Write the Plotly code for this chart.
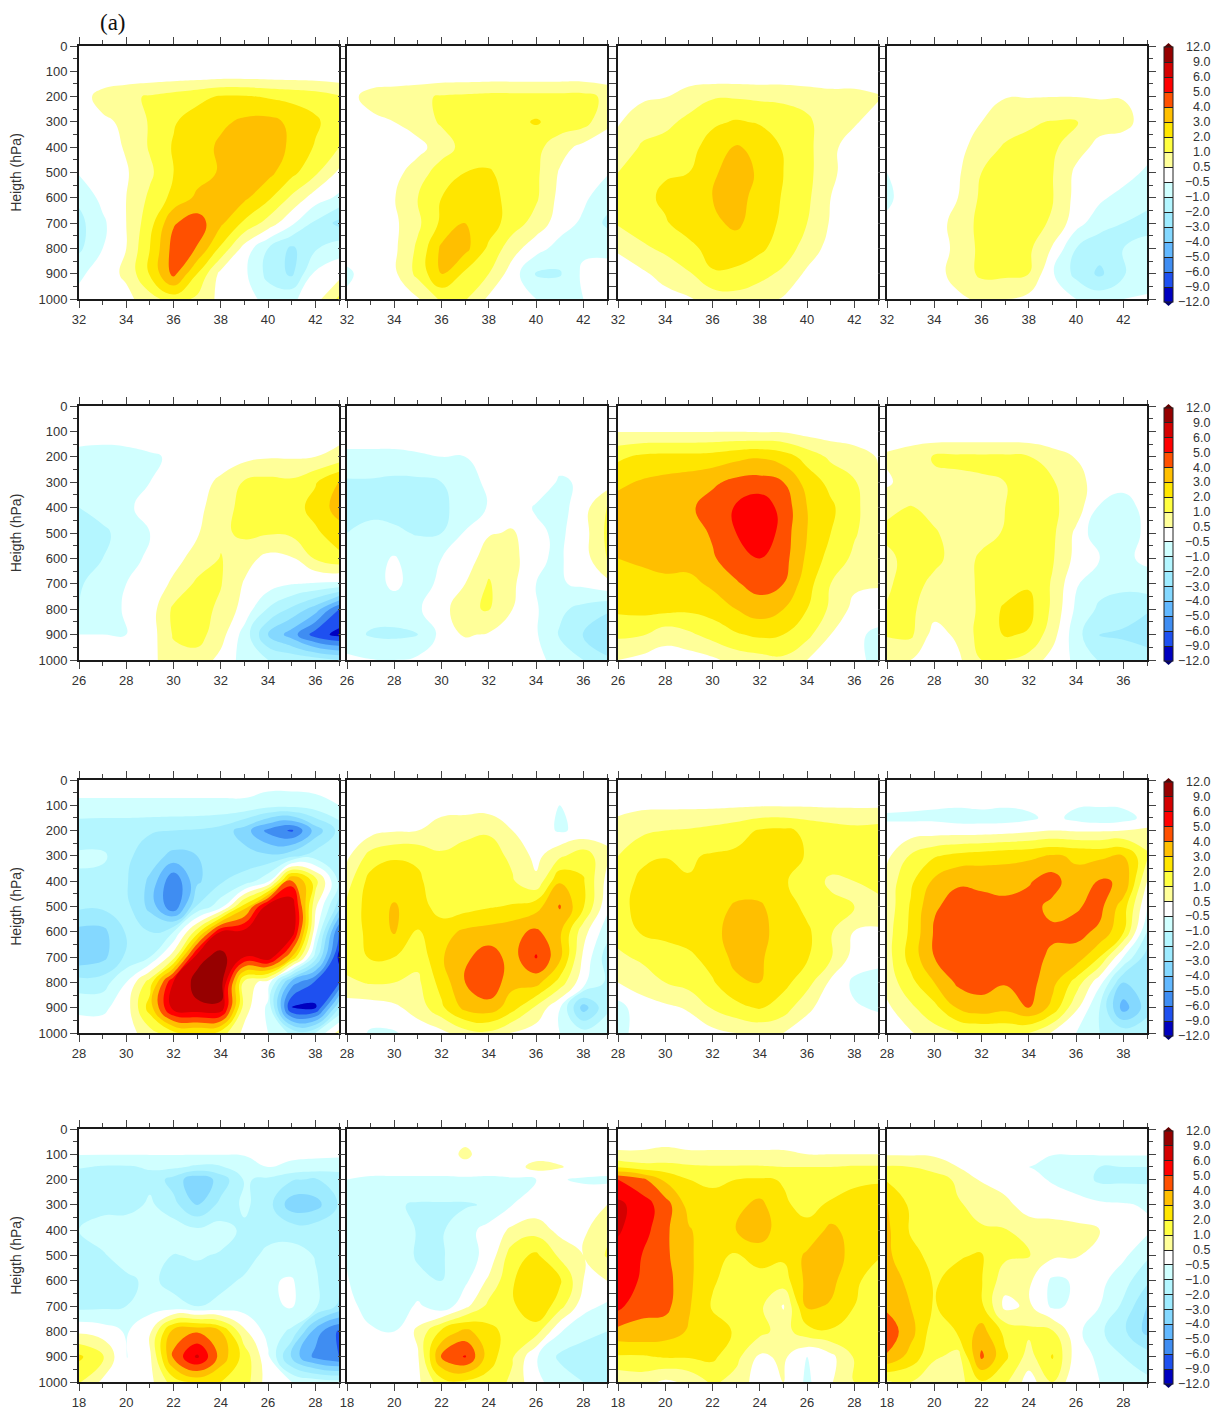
import numpy as np
import plotly.graph_objects as go

LEVELS = [-12, -9, -6, -5, -4, -3, -2, -1, -0.5, 0.5, 1, 2, 3, 4, 5, 6, 9, 12]
LEVEL_LABELS = ["-12.0", "-9.0", "-6.0", "-5.0", "-4.0", "-3.0", "-2.0", "-1.0", "-0.5",
                "0.5", "1.0", "2.0", "3.0", "4.0", "5.0", "6.0", "9.0", "12.0"]
BAND_COLORS = ["#0000C0", "#1E50F0", "#3F8DF2", "#62B8FF", "#84D8FF", "#9EEBFF", "#B4F6FF", "#D0FFFF",
               "#FFFFFF", "#FFFF99", "#FFFF40", "#FFE600", "#FFBF00", "#FF5000", "#FF0000", "#D40000", "#960000"]

PRESS_A = [0, 100, 200, 300, 400, 500, 600, 700, 800, 900, 1000]
PRESS_B = [0, 100, 150, 200, 300, 400, 500, 600, 700, 800, 900, 1000]
ROW_X0 = [32, 26, 28, 18]
Y_TITLE = "Heigth (hPa)"

A1 = [[0]*12, [-0.4]*12,
 [0,0.7,0.9,1.1,1.4,1.7,2.1,2.1,1.9,1.7,1.5,1.1],
 [0,0.3,0.6,1.1,1.9,2.5,2.8,3.2,3.3,2.8,2.2,1.3],
 [0,0,0.55,1.1,2.1,2.5,3.2,3.5,3.6,2.8,1.9,1.0],
 [-0.4,0,0.4,0.9,2.0,2.6,3.1,3.4,3.3,2.3,1.2,0.3],
 [-0.9,-0.2,0.5,1.2,2.3,3.2,3.5,3.2,2.2,0.9,0,-0.6],
 [-1.3,-0.6,0.5,1.6,3.9,4.5,3.2,1.8,0.8,-0.3,-1.2,-2.3],
 [-1.2,-0.5,0.5,2.0,4.4,3.95,1.8,0.1,-1.0,-2.2,-1.1,-0.7],
 [-0.6,0,0.6,2.1,4.3,2.0,0.2,-0.3,-1.3,-2.2,-0.3,0.1],
 [-0.2,0,0.2,0.8,1.5,0.9,0.2,0,-0.7,-0.6,0.1,1.2]]
A2 = [[0]*12, [-0.4]*12,
 [0.1,0.7,0.8,0.9,1.1,1.2,1.3,1.3,1.3,1.3,1.3,0.9],
 [0,0.2,0.5,0.8,1.1,1.4,1.5,1.7,2.1,1.6,1.4,0.6],
 [0,0,0,0.1,0.8,1.3,1.5,1.6,1.3,0.7,0.2,0],
 [0,0,0.1,0.8,1.4,2.0,2.1,1.6,1.2,0.4,0,-0.4],
 [0,0,0.45,1.0,2.0,2.5,2.4,1.6,1.15,0.2,-0.3,-0.8],
 [0,0,0.3,0.9,2.2,3.02,2.5,1.5,0.8,0,-0.6,-1.2],
 [0,0,0.3,1.2,3.2,3.3,1.8,0.7,-0.1,-0.7,-0.6,-0.6],
 [-0.6,0,0.3,1.3,3.0,1.8,1.0,0,-1.1,-1.1,-0.3,-0.2],
 [-0.3,0,0,0.4,1.2,1.1,0.3,0,-0.5,-0.6,-0.5,-0.4]]
A3 = [[0]*12, [-0.4]*12,
 [0,0.3,0.45,0.8,0.95,0.95,0.9,0.9,0.8,0.7,0.7,0.55],
 [0.4,0.8,0.9,1.2,1.8,2.1,1.9,1.5,1.2,0.7,0.55,0.1],
 [0.7,1.1,1.3,1.6,2.5,3.1,2.7,1.9,1.3,0.6,0.1,0],
 [1.0,1.4,1.9,2.0,2.9,3.3,2.9,2.0,1.3,0.6,0,0],
 [1.2,1.7,2.2,2.4,3.0,3.3,2.7,1.9,1.2,0.5,0,0],
 [1.1,1.5,1.9,2.5,2.8,3.2,2.5,1.8,1.0,0.4,0,0],
 [0.55,0.9,1.2,1.7,2.4,2.5,2.2,1.5,0.8,0.1,0,0],
 [0.1,0.3,0.7,0.95,1.9,1.8,1.3,0.9,0.3,0,0,0],
 [0,0,0.1,0.4,0.7,0.8,0.7,0.4,0,0,0,0]]
A4 = [[0]*12, [0]*12,
 [0,0,0,0,0.2,0.45,0.45,0.48,0.48,0.45,0.45,0],
 [0,0,0,0,0.5,0.8,0.95,1.05,1.05,0.7,0.65,0.1],
 [0,0,0,0.1,0.8,1.1,1.2,1.2,0.7,0.2,0,0],
 [-0.5,0,0,0.35,1.0,1.2,1.3,1.05,0.3,0,0,-0.6],
 [-0.6,0,0,0.5,1.2,1.3,1.3,1.05,0.2,-0.3,-0.7,-0.9],
 [-0.3,0,0,0.7,1.3,1.4,1.3,0.95,-0.1,-0.8,-1.0,-1.2],
 [0,0,0.1,0.6,1.3,1.4,1.2,0.4,-1.0,-1.6,-1.0,-0.9],
 [0,0,0.1,0.7,1.2,1.2,1.0,-0.4,-1.3,-2.2,-1.1,-0.7],
 [0,0,0,0.3,0.6,0.5,0.2,0,-0.5,-0.7,-0.5,-0.4]]

B1 = [[0]*12, [0.4,0.4,0.4,0.4,0.2,0,0,0,0,0,0,0],
 [-0.8,-0.9,-0.8,-0.6,-0.3,0,0,0.2,0.4,0.4,0.5,0.7],
 [-0.9,-0.9,-0.7,-0.5,0,0.1,0.6,1.1,1.3,1.2,1.9,3.1],
 [-1.0,-0.9,-0.55,-0.3,0,0.2,0.8,1.3,1.4,1.5,2.4,3.4],
 [-1.1,-1.1,-0.9,-0.5,0,0.4,0.9,1.2,1.1,1.2,1.8,2.6],
 [-1.1,-1.0,-0.7,-0.3,0.15,0.7,1.05,0.7,0.2,0.4,1.1,1.7],
 [-1.1,-0.8,-0.5,-0.2,0.6,1.2,1.05,0.4,0,-0.45,-0.55,-0.6],
 [-1.0,-0.7,-0.4,0,1.2,1.4,0.9,0.1,-1.1,-2.2,-3.5,-6],
 [-0.5,-0.5,-0.5,0,1.1,1.4,0.7,-0.7,-3,-4.5,-7.5,-10],
 [0,0,0,0.2,0.8,0.8,0.2,-0.7,-1,-1.2,-1.5,-2.0]]
B2 = [[0]*12, [0.4,0.4,0.4,0.4,0.4,0.4,0.3,0,0,0,0,0],
 [-0.7,-0.7,-0.7,-0.6,-0.5,-0.5,-0.3,0,0,-0.2,-0.3,0],
 [-1.1,-1.1,-1.2,-1.2,-1.0,-0.7,-0.3,0,0,-0.55,-0.4,0],
 [-1.1,-1.2,-1.2,-1.2,-1.1,-0.9,-0.4,0,-0.55,-0.7,0.1,1.1],
 [-1.0,-0.9,-0.95,-1.05,-1.0,-0.4,0.4,0.55,-0.3,-0.6,0.1,1.2],
 [-0.8,-0.7,-0.4,-0.8,-0.5,-0.1,0.8,0.7,-0.4,-0.55,0,1.1],
 [-0.8,-0.7,-0.3,-0.7,-0.3,0.5,1.1,0.6,-0.5,-0.55,-0.3,0.2],
 [-0.8,-0.8,-0.75,-0.55,0,0.95,1.05,0.5,-0.4,-0.9,-1.3,-1.8],
 [-0.8,-1.1,-1.2,-1.0,-0.2,0.55,0.4,0,-0.4,-1.1,-2.1,-3.0],
 [-0.3,-0.45,-0.5,-0.3,0,0,0,0,-0.2,-0.7,-1.0,-1.8]]
B3 = [[0]*12,
 [0.45,0.45,0.45,0.45,0.45,0.45,0.4,0.4,0.1,0,0,0],
 [1.8,2.2,2.3,2.3,2.4,2.7,2.9,2.5,1.6,0.9,0.7,0.45],
 [2.8,3.1,3.3,3.5,3.8,4.3,4.4,4.0,2.6,1.7,1.1,0.55],
 [3.4,3.5,3.6,3.8,4.5,5.1,5.7,4.6,3.0,2.2,1.2,0.7],
 [3.5,3.6,3.6,3.6,4.1,5.0,6.0,4.5,3.0,2.0,1.1,0.7],
 [3.0,3.1,3.3,3.4,3.9,4.5,5.0,4.4,2.8,1.6,0.9,0.7],
 [2.4,2.8,2.8,2.7,3.2,3.9,4.4,4.0,2.4,1.0,0.6,0.55],
 [2.2,2.3,2.3,2.2,2.4,3.0,3.5,3.0,2.0,0.9,0.2,0],
 [1.2,1.1,0.7,0.9,1.4,1.9,2.2,2.0,1.3,0.5,-0.3,-0.6],
 [0.5,0.2,0,0,0.3,0.7,0.8,0.9,0.5,0,-0.3,-0.6]]
B4 = [[0]*12, [-0.3,-0.3,-0.4,-0.4,-0.4,-0.4,-0.4,-0.3,0,0,0,0],
 [0.6,0.8,1.1,1.2,1.2,1.2,1.05,0.7,0.45,0,0,0],
 [0.3,0.8,0.9,0.9,0.95,1.0,1.3,1.1,0.7,0,-0.2,0],
 [0.9,1.05,0.85,0.8,0.8,1.0,1.3,1.2,0.75,-0.55,-0.7,-0.2],
 [1.2,1.3,1.1,0.8,0.9,1.05,1.4,1.2,0.3,-0.9,-0.9,-0.2],
 [0.9,1.3,1.2,0.85,1.1,1.3,1.4,1.1,0.2,-0.5,-0.6,-0.3],
 [0.95,1.3,0.9,0.75,1.2,1.4,1.9,0.95,-0.4,-0.8,-0.9,-0.7],
 [1.05,1.2,0.7,0.7,1.2,2.2,2.3,0.9,-0.6,-1.2,-1.4,-1.9],
 [1.1,1.2,0.1,0.6,1.4,2.1,1.9,0.7,-0.8,-2.1,-2.2,-2.5],
 [0.5,0.5,0,0.3,1.0,1.0,0.8,0.1,-0.6,-1.1,-1.2,-1.5]]

C1 = [[0]*12,
 [-0.6,-0.6,-0.6,-0.6,-0.6,-0.6,-0.6,-0.6,-0.8,-0.8,-0.7,-0.5],
 [-1.7,-1.8,-1.8,-1.9,-2.0,-2.1,-2.4,-3.5,-5.3,-6.5,-3.6,-1.7],
 [-0.9,-0.9,-1.8,-2.5,-3.3,-3.0,-2.1,-2.6,-2.8,-2.3,-1.5,-1.4],
 [-1.2,-1.4,-1.9,-3.2,-5.9,-3.2,-2.1,-1.6,-0.6,4.5,1.5,-1.2],
 [-1.8,-1.8,-1.7,-3.3,-5.9,-1.9,-0.7,2.5,8,8.5,0.6,-2.5],
 [-3.3,-3.3,-1.9,-2.0,-1.0,1.5,6.2,7,9,8.5,-0.1,-6.2],
 [-3.7,-3.3,-1.8,-1,0.8,8,10,6,8.5,3,-1.5,-10],
 [-1.6,-1.5,-0.5,1.5,6.3,10,10.5,0.8,0,-4.5,-6.5,-6.5],
 [-0.6,-0.6,0,2.5,7.5,8.5,8.5,0.7,-0.6,-9.5,-9.5,-2],
 [0,0,0,0.8,1.7,2,1.5,0.2,-0.5,-1.2,-1.0,0.7]]
C2 = [[0]*12,
 [0,0,-0.3,-0.3,0,0,0,0,-0.4,-0.5,-0.3,0],
 [0,0.1,0.4,0.5,0.8,0.9,0.95,0.5,-0.1,-0.55,-0.3,0.2],
 [0.3,1.4,1.9,1.8,1.1,1.3,1.4,0.9,0.2,0.9,1.6,0.6],
 [0.8,2.4,2.5,2.2,1.3,1.4,1.5,1.1,0.6,2.9,2.1,0.2],
 [1.2,2.5,3.1,2.5,1.5,1.6,1.9,2.1,2.6,4.1,2.1,-0.2],
 [1.4,2.3,3.1,1.9,2.6,3.2,3.4,3.7,4.2,3.2,0.7,-0.8],
 [1.5,2.1,2.0,1.3,2.9,3.8,4.5,3.6,5.1,3.3,0.3,-1.5],
 [0.9,1.1,1.0,0.9,2.4,4.0,4.8,3.3,3.4,1.6,-0.2,-1.2],
 [0,0,0.3,0.7,1.8,3.3,3.6,2.4,0.9,-0.4,-3.5,-1.2],
 [0,-0.55,-0.55,0,0.2,0.8,0.9,0.4,0,-0.5,-0.8,-0.7]]
C3 = [[0]*12,
 [0.2,0.3,0.3,0.3,0.3,0.35,0.4,0.4,0.4,0.35,0.35,0.35],
 [0.7,0.9,1.0,1.1,1.3,1.6,2.1,2.2,1.8,1.5,1.3,1.4],
 [1.0,1.7,1.95,1.9,2.1,2.2,2.6,2.6,1.9,1.6,1.4,1.2],
 [1.3,2.3,2.5,2.05,2.4,2.6,2.6,2.1,1.6,0.9,1.0,1.2],
 [1.5,2.5,2.6,2.6,2.7,3.1,3.1,2.6,1.7,1.3,1.0,0.9],
 [1.4,2.1,2.3,2.5,2.8,3.3,3.2,2.7,2.2,1.1,0.45,0.3],
 [0.9,1.2,1.5,1.8,2.4,3.3,3.1,2.6,2.1,1.1,0.1,0],
 [0.5,0.7,1.0,1.4,1.9,2.8,3.0,2.3,1.4,0.3,-0.6,-0.8],
 [-0.7,0.1,0.3,0.55,1.1,1.7,2.1,1.5,0.6,0,-0.4,-0.55],
 [-0.7,0,0,0,0.2,0.5,0.6,0.5,0,0,0,0]]
C4 = [[0]*12,
 [-0.2,-0.3,-0.4,-0.4,-0.3,-0.4,-0.3,0,-0.4,-0.4,-0.35,0],
 [-0.6,-0.6,-0.6,-0.7,-0.7,-0.7,-0.6,-0.2,-0.65,-0.8,-0.7,-0.2],
 [0,0,0,0,0,0.1,0.3,0.5,0.4,0.4,0.5,0.6],
 [0.3,1.1,1.9,2.3,2.5,2.7,2.8,3.1,2.9,2.8,3.0,1.2],
 [0.7,1.8,3.2,3.9,3.8,3.6,3.9,4.5,3.2,4.1,3.9,0.5],
 [0.7,2.1,3.9,4.3,4.3,4.3,4.4,3.7,3.9,4.3,2.5,-0.4],
 [0.8,2.2,4.1,4.6,4.6,4.6,4.6,4.2,4.3,3.8,2.1,-1],
 [0.8,2.4,4.0,4.6,4.7,4.6,4.4,3.8,3.6,2.0,-0.5,-2.5],
 [0.7,1.7,3.0,4.2,4.4,4.1,4.4,3.3,1.6,-0.2,-3,-2.8],
 [0.3,0.9,1.7,3.1,3.6,3.3,4.0,2.7,0.6,-1.0,-4.5,-2.5],
 [0,0.4,0.8,1,1.1,1.2,1.0,0.4,-0.5,-1,-1.4,-1.2]]

D1 = [[0]*12,
 [-0.45,-0.45,-0.45,-0.45,-0.45,-0.45,-0.45,-0.45,-0.3,-0.3,-0.3,-0.3],
 [-0.95,-1.1,-1.1,-0.95,-0.9,-1.2,-1.1,-0.7,-0.5,-0.6,-0.7,-0.8],
 [-1.6,-1.8,-1.6,-1.3,-2.4,-3.8,-2.6,-0.95,-1.2,-1.9,-2.1,-1.6],
 [-1.2,-1.3,-1.5,-0.9,-1.7,-3.0,-1.7,-0.9,-1.6,-3.6,-3.4,-1.9],
 [-1.0,-0.8,-0.6,-0.5,-0.7,-0.9,-0.8,-1.2,-1.3,-1.4,-1.4,-1.5],
 [-1.1,-1.1,-0.8,-0.55,-1.05,-0.95,-1.1,-1.3,-0.9,-0.8,-1.05,-1.6],
 [-1.4,-1.4,-1.2,-0.9,-1.3,-1.4,-1.2,-0.95,-0.55,-0.4,-0.95,-1.7],
 [-1.3,-1.2,-1.0,-0.7,-0.85,-1.05,-0.9,-0.75,-0.6,-0.4,-0.9,-2.2],
 [0.3,0,-0.55,0.3,3.5,3.9,3.0,0.6,-0.7,-1.2,-4.5,-6.5],
 [2.2,1.1,-0.55,0.3,4.2,6.6,3.6,1.6,-0.3,-3.3,-5.3,-6.2],
 [1.1,0.3,0,0.2,1.5,2.3,2.0,1.5,0,-0.5,-0.7,-0.8]]
D2 = [[0]*12,
 [0,0,0,0,0,0.6,0,0,0,0,0,0],
 [0,0,0,0,0,0.2,0,0,0.7,0.55,0,0],
 [-0.5,-0.6,-0.6,-0.6,-0.6,-0.6,-0.6,-0.55,-0.5,-0.45,-0.55,-0.6],
 [-0.9,-0.85,-0.95,-1.1,-1.1,-1.1,-0.95,-0.5,-0.2,-0.2,0,0.5],
 [-1.0,-0.9,-0.8,-1.05,-1.1,-0.7,-0.1,0.6,0.8,0.2,0.3,0.9],
 [-0.55,-0.7,-0.75,-1.1,-1.1,-0.7,-0.2,1.6,2.2,0.9,0.5,1.1],
 [-0.4,-1.0,-1.0,-0.9,-1.0,-0.6,0.6,1.9,2.9,2.2,0.5,0.5],
 [0,-0.8,-0.9,-0.3,-0.85,0.2,1.3,1.8,3.0,1.4,-0.1,-0.6],
 [0,-0.3,-0.5,0.6,2.2,3.3,2.3,1.6,1.4,-0.4,-0.9,-1.0],
 [0,0,-0.3,0.4,4.1,5.1,2.5,1.1,-0.4,-1.2,-1.3,-1.4],
 [0,0,0,0.3,1.6,1.8,1.6,0.9,-0.3,-0.7,-1.0,-1.0]]
D3 = [[0]*12,
 [0.55,0.55,0.6,0.55,0.55,0.55,0.55,0.55,0.5,0.5,0.5,0.5],
 [1.9,1.4,1.4,1.2,1.1,1.1,1.1,1.0,1.0,1.0,1.1,1.1],
 [5.0,4.3,2.8,2.0,1.9,2.0,2.1,1.95,1.4,1.6,1.8,1.9],
 [6.8,5.5,4.5,2.6,2.2,2.7,3.3,2.1,1.8,2.1,2.4,2.5],
 [6.3,5.5,4.2,3.1,2.4,3.0,3.6,2.3,2.2,3.3,2.5,2.4],
 [5.7,5.0,4.2,3.2,2.2,1.9,2.4,2.2,3.2,3.7,2.5,2.1],
 [5.5,4.9,4.4,3.2,2.1,1.6,1.6,1.5,3.3,3.3,2.2,1.5],
 [5.3,4.2,4.3,3.1,1.9,1.5,1.2,0.4,3.2,2.9,2.0,1.0],
 [3.7,3.8,3.5,2.9,2.4,1.9,1.3,0.8,1.6,1.9,1.7,1.3],
 [1.9,1.9,2.1,2.1,2.2,1.3,0.3,0.6,-0.5,0.2,1.1,1.3],
 [0.6,0.7,0.3,0.6,1.2,0.8,0,0.5,-0.6,0.4,1.0,1.0]]
D4 = [[0]*12,
 [0.4,0.4,0.35,0.2,0,-0.2,-0.3,-0.45,-0.45,-0.4,-0.4,-0.4],
 [1.1,1.0,0.8,0.5,0,-0.5,-0.5,-0.8,-0.9,-1.0,-1.0,-1.0],
 [1.9,2.0,1.5,0.9,0.4,0,-0.2,-0.55,-0.7,-1.2,-1.2,-1.2],
 [3.1,1.8,1.6,1.1,0.85,0.65,0,0,-0.2,-0.3,-0.4,-0.55],
 [3.2,1.9,1.4,1.2,1.1,1.05,0.8,0.7,0.65,0.5,0,-0.3],
 [3.2,2.3,1.7,1.9,2.1,1.2,1.05,0.6,0.55,0,-0.3,-0.9],
 [3.4,2.8,1.9,2.3,2.05,0.7,0.6,-0.6,-0.4,-0.2,-0.8,-1.8],
 [3.8,3.0,1.9,2.7,2.2,0.2,0.6,-0.6,-0.3,-0.5,-1.2,-3],
 [4.6,3.4,1.4,2.1,3.4,1.7,1.2,1.1,-0.2,-0.9,-1.8,-3.3],
 [3.9,2.6,1.2,0.8,4.2,2.2,0.8,2.1,0,-0.6,-1,-1.5],
 [0.9,1.0,0.5,0.8,1.9,1.2,0,1.0,-0.3,-0.5,-0.7,-0.9]]

PANELS = [[A1, A2, A3, A4], [B1, B2, B3, B4], [C1, C2, C3, C4], [D1, D2, D3, D4]]
COL_PX = [(79, 339), (347, 607), (618, 878), (887, 1147)]
ROW_PX = [(46, 299), (406, 660), (780, 1033), (1129, 1382)]
CBAR_PX = [(47, 302), (408, 661), (782, 1036), (1131, 1384)]
W, H = 1215, 1410

n = len(BAND_COLORS)
scale = []
for i, c in enumerate(BAND_COLORS):
    scale += [[i / n, c], [(i + 1) / n, c]]
idx = np.arange(len(LEVELS))


def to_index(v):
    return np.interp(np.array(v, dtype=float), LEVELS, idx).tolist()


def fy(py):
    return 1 - py / H


fig = go.Figure()
layout = {}
k = 0
tick_font = dict(family="Liberation Sans, Arial, sans-serif", size=13, color="#333333")
for r, row in enumerate(PANELS):
    for c, data in enumerate(row):
        k += 1
        press = PRESS_A if len(data) == len(PRESS_A) else PRESS_B
        x = list(range(ROW_X0[r], ROW_X0[r] + 12))
        trace = dict(
            x=x, y=press, z=[to_index(d) for d in data],
            xaxis=f"x{k}", yaxis=f"y{k}",
            contours=dict(start=0, end=17, size=1, coloring="fill", showlines=False),
            line=dict(width=0, smoothing=1.3),
            colorscale=scale, zmin=0, zmax=17, zauto=False,
            showscale=False, hoverinfo="skip",
        )
        if c == 3:
            top, bot = CBAR_PX[r]
            trace["showscale"] = True
            trace["colorbar"] = dict(
                x=1164 / W, xanchor="left", xpad=0, y=fy(top), yanchor="top", ypad=0,
                lenmode="pixels", len=bot - top, thickness=9, thicknessmode="pixels",
                tickmode="array", tickvals=idx.tolist(), ticktext=[""] * len(idx),
                ticks="inside", ticklen=9, tickcolor="#222222", tickwidth=1,
                showticklabels=False, outlinewidth=1, outlinecolor="#222222",
            )
        fig.add_trace(go.Contour(**trace))
        axis_common = dict(
            showline=True, linecolor="#1a1a1a", linewidth=2, mirror="ticks", showgrid=False,
            zeroline=False, ticks="outside", ticklen=7, tickcolor="#444444", tickwidth=1,
            tickfont=tick_font,
        )
        layout[f"xaxis{k}"] = dict(
            domain=[COL_PX[c][0] / W, COL_PX[c][1] / W], anchor=f"y{k}",
            range=[x[0], x[-1]], tick0=x[0], dtick=2, ticklabelstandoff=0,
            minor=dict(ticks="outside", ticklen=4, dtick=1, tickcolor="#444444"),
            **axis_common,
        )
        yax = dict(
            domain=[fy(ROW_PX[r][1]), fy(ROW_PX[r][0])], anchor=f"x{k}",
            range=[1000, 0], tick0=0, dtick=100, showticklabels=(c == 0),
            minor=dict(ticks="outside", ticklen=4, dtick=50, tickcolor="#444444"),
            **axis_common,
        )
        if c == 0:
            yax["title"] = dict(text=Y_TITLE, standoff=14,
                                font=dict(family="Liberation Sans, Arial, sans-serif", size=14, color="#333333"))
        layout[f"yaxis{k}"] = yax

annotations = [dict(text="(a)", xref="paper", yref="paper", x=98 / W, y=fy(23), xanchor="left", yanchor="middle",
                    showarrow=False, font=dict(family="Liberation Serif, Times New Roman, serif", size=23, color="#111111"))]
shapes = []
for top, bot in CBAR_PX:
    step = (bot - top) / (len(LEVELS) - 1)
    for i, lab in enumerate(LEVEL_LABELS):
        annotations.append(dict(text=lab.replace("-", "\u2212"), xref="paper", yref="paper", x=1212 / W,
                                y=fy(bot - i * step), xanchor="right", yanchor="middle", showarrow=False,
                                font=dict(family="Liberation Sans, Arial, sans-serif", size=12.5, color="#333333")))
    shapes.append(dict(type="path", xref="paper", yref="paper", line=dict(width=0), fillcolor="#600000",
                       path=f"M {1164/W} {fy(top)} L {1173/W} {fy(top)} L {1168.5/W} {fy(top-4)} Z"))
    shapes.append(dict(type="path", xref="paper", yref="paper", line=dict(width=0), fillcolor="#000070",
                       path=f"M {1164/W} {fy(bot)} L {1173/W} {fy(bot)} L {1168.5/W} {fy(bot+4)} Z"))

fig.update_layout(width=W, height=H, margin=dict(l=0, r=0, t=0, b=0, autoexpand=False),
                  paper_bgcolor="white", plot_bgcolor="white",
                  showlegend=False, annotations=annotations, shapes=shapes, **layout)
fig.write_html("out.html", config={"displayModeBar": False},
               post_script="document.body.style.margin='0';document.documentElement.style.overflow='hidden';")
